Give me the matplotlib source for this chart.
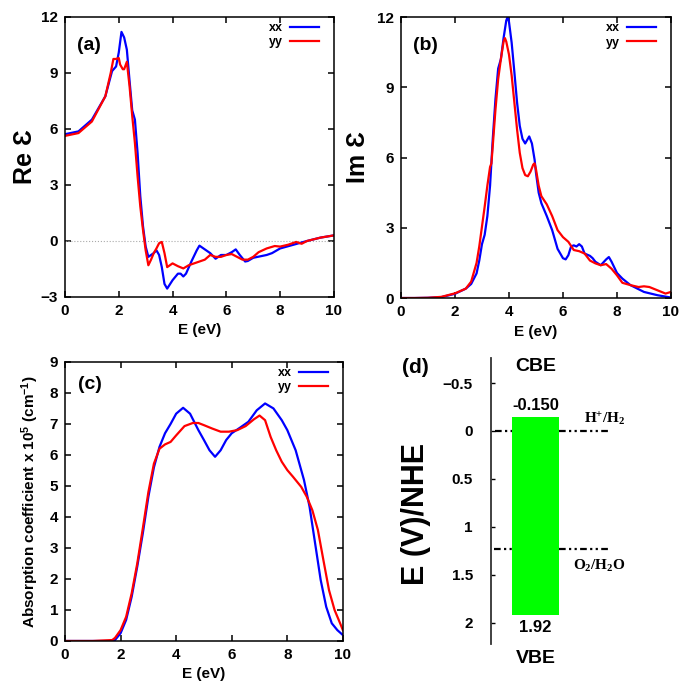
import numpy as np
import matplotlib
matplotlib.use('Agg')
import matplotlib.pyplot as plt

plt.rcParams['font.family'] = ['Liberation Sans', 'DejaVu Sans']
plt.rcParams['font.weight'] = 'bold'
plt.rcParams['axes.labelweight'] = 'bold'
plt.rcParams['mathtext.default'] = 'regular'

# (a) Re eps
re_E = [0, 0.5, 1, 1.5, 1.75, 1.9, 2.0, 2.1, 2.2, 2.3, 2.4, 2.5, 2.6, 2.7, 2.8, 2.9, 3.0, 3.1, 3.3, 3.4, 3.5,
        3.6, 3.7, 3.8, 4.0, 4.2, 4.3, 4.4, 4.5, 4.7, 4.9, 5.0, 5.2, 5.4, 5.6, 5.8, 6.0, 6.2, 6.35, 6.5, 6.7,
        6.8, 7.0, 7.5, 7.7, 8.0, 8.5, 9.0, 9.5, 10]
re_xx = [5.72, 5.87, 6.5, 7.75, 9.1, 9.35, 10.1, 11.2, 10.9, 10.25, 8.6, 7.0, 6.5, 4.7, 2.4, 0.8, -0.3, -0.85,
         -0.65, -0.5, -0.75, -1.4, -2.3, -2.55, -2.1, -1.75, -1.75, -1.9, -1.75, -1.1, -0.5, -0.25, -0.45,
         -0.65, -0.95, -0.75, -0.75, -0.6, -0.45, -0.75, -1.1, -1.07, -0.9, -0.75, -0.65, -0.4, -0.2, 0.0,
         0.18, 0.3]
re_E2 = [0, 0.5, 1.0, 1.5, 1.7, 1.8, 1.9, 2.0, 2.05, 2.15, 2.2, 2.3, 2.4, 2.5, 2.6, 2.7, 2.8, 2.9, 3.0, 3.1,
         3.2, 3.3, 3.4, 3.5, 3.6, 3.7, 3.8, 3.9, 4.0, 4.2, 4.4, 4.6, 4.8, 5.0, 5.2, 5.4, 5.6, 5.8, 6.0, 6.2,
         6.4, 6.6, 6.8, 7.0, 7.2, 7.5, 7.8, 8.0, 8.3, 8.6, 8.8, 9.0, 9.5, 10]
re_yy = [5.63, 5.78, 6.4, 7.75, 9.0, 9.75, 9.75, 9.8, 9.45, 9.2, 9.2, 9.6, 8.3, 6.7, 5.25, 3.45, 1.85, 0.6,
         -0.5, -1.3, -1.0, -0.65, -0.4, -0.12, -0.05, -0.65, -1.4, -1.3, -1.2, -1.35, -1.47, -1.3, -1.2, -1.1,
         -1.0, -0.75, -0.85, -0.85, -0.75, -0.7, -0.85, -1.0, -1.0, -0.85, -0.6, -0.4, -0.27, -0.3, -0.2,
         -0.05, -0.15, 0.0, 0.18, 0.3]

# (b) Im eps
im_E = [0, 0.5, 1.0, 1.5, 2.0, 2.4, 2.6, 2.8, 2.9, 3.0, 3.1, 3.2, 3.3, 3.4, 3.5, 3.6, 3.7, 3.8, 3.9, 3.95,
        4.0, 4.1, 4.2, 4.3, 4.4, 4.5, 4.6, 4.7, 4.75, 4.85, 4.95, 5.0, 5.1, 5.2, 5.4, 5.6, 5.8, 6.0, 6.1,
        6.2, 6.3, 6.4, 6.5, 6.6, 6.7, 6.8, 7.0, 7.1, 7.2, 7.4, 7.6, 7.7, 7.8, 8.0, 8.2, 8.5, 9.0, 9.5, 10]
im_xx = [0, 0, 0.01, 0.04, 0.18, 0.4, 0.6, 1.05, 1.6, 2.3, 2.7, 3.5, 4.8, 6.8, 8.5, 9.8, 10.2, 11.1, 11.85,
         12.0, 11.8, 10.9, 9.65, 8.35, 7.35, 6.8, 6.6, 6.8, 6.9, 6.6, 5.9, 5.35, 4.5, 4.05, 3.5, 2.9, 2.1,
         1.7, 1.65, 1.83, 2.2, 2.25, 2.2, 2.3, 2.2, 1.9, 1.8, 1.7, 1.55, 1.4, 1.65, 1.75, 1.55, 1.07, 0.83,
         0.55, 0.26, 0.12, 0.02]
im_E2 = [0, 0.5, 1.0, 1.5, 2.0, 2.4, 2.6, 2.8, 2.9, 3.0, 3.1, 3.2, 3.3, 3.35, 3.4, 3.5, 3.6, 3.7, 3.8, 3.85,
         3.9, 4.0, 4.1, 4.2, 4.3, 4.4, 4.5, 4.6, 4.7, 4.8, 4.9, 4.95, 5.0, 5.1, 5.2, 5.4, 5.6, 5.8, 6.0, 6.2,
         6.4, 6.6, 6.8, 7.0, 7.2, 7.4, 7.6, 7.8, 8.0, 8.2, 8.5, 8.8, 9.0, 9.2, 9.5, 9.8, 10]
im_yy = [0, 0, 0.01, 0.05, 0.2, 0.4, 0.7, 1.5, 2.2, 3.05, 3.9, 4.8, 5.6, 5.75, 6.5, 8.05, 9.35, 10.2, 10.95,
         11.1, 10.95, 10.4, 9.5, 8.35, 7.2, 6.2, 5.55, 5.25, 5.2, 5.4, 5.7, 5.75, 5.5, 4.8, 4.35, 4.0, 3.5,
         2.9, 2.6, 2.4, 2.05, 2.0, 1.9, 1.6, 1.48, 1.4, 1.45, 1.25, 0.97, 0.65, 0.55, 0.47, 0.5, 0.47, 0.33,
         0.19, 0.26]

# (c) absorption coefficient
ab_E = [0, 1.0, 1.7, 1.8, 2.0, 2.2, 2.4, 2.6, 2.8, 3.0, 3.2, 3.4, 3.6, 3.8, 4.0, 4.25, 4.5, 4.8, 5.0, 5.2,
        5.4, 5.6, 5.8, 6.0, 6.3, 6.6, 6.9, 7.2, 7.5, 7.8, 8.0, 8.3, 8.6, 8.8, 9.0, 9.2, 9.4, 9.6, 9.8, 10]
ab_xx = [0, 0, 0, 0.03, 0.25, 0.68, 1.43, 2.4, 3.47, 4.65, 5.6, 6.26, 6.7, 7.0, 7.33, 7.52, 7.33, 6.8, 6.48,
         6.15, 5.94, 6.15, 6.48, 6.7, 6.88, 7.07, 7.44, 7.66, 7.5, 7.12, 6.8, 6.15, 5.19, 4.33, 3.15, 1.97,
         1.1, 0.57, 0.35, 0.19]
ab_E2 = [0, 1.0, 1.7, 1.8, 2.0, 2.2, 2.4, 2.6, 2.8, 3.0, 3.2, 3.4, 3.6, 3.8, 4.0, 4.3, 4.6, 4.8, 5.0, 5.3,
         5.6, 5.9, 6.2, 6.5, 6.8, 7.0, 7.2, 7.4, 7.6, 7.8, 8.0, 8.2, 8.5, 8.7, 8.9, 9.1, 9.3, 9.5, 9.7, 9.9, 10]
ab_yy = [0, 0, 0.03, 0.1, 0.35, 0.78, 1.54, 2.5, 3.63, 4.8, 5.72, 6.2, 6.34, 6.42, 6.63, 6.93, 7.03, 7.03,
         6.96, 6.85, 6.75, 6.75, 6.8, 6.93, 7.15, 7.27, 7.12, 6.58, 6.15, 5.78, 5.51, 5.3, 4.97, 4.65, 4.22,
         3.58, 2.6, 1.64, 1.0, 0.57, 0.35]

# (d) band edges
cbe = -0.150
vbe = 1.92
h_level = 0.0
o_level = 1.23

blue = '#0000ff'
red = '#ff0000'

fig = plt.figure(figsize=(6.93, 6.84), dpi=100)

def style(ax):
    ax.tick_params(direction='in', top=True, right=True, labelsize=11, width=1.1, length=4, pad=5)
    for s in ax.spines.values():
        s.set_linewidth(1.1)

ax1 = fig.add_axes([0.0938, 0.5658, 0.388, 0.4094])
ax1.axhline(0, color='#aaaaaa', lw=0.8, ls=':')
ax1.plot(re_E, re_xx, color=blue, lw=1.6, label='xx')
ax1.plot(re_E2, re_yy, color=red, lw=1.6, label='yy')
ax1.set_xlim(0, 10)
ax1.set_ylim(-3, 12)
ax1.set_yticks([-3, 0, 3, 6, 9, 12])
ax1.set_yticklabels(['\u22123', '0', '3', '6', '9', '12'])
ax1.set_xticks([0, 2, 4, 6, 8, 10])
ax1.set_xlabel('E (eV)', fontsize=11, labelpad=4)
ax1.set_ylabel('Re \u0190', fontsize=18, labelpad=3)
ax1.text(0.045, 0.93, '(a)', transform=ax1.transAxes, fontsize=14, va='top')
style(ax1)

ax2 = fig.add_axes([0.5786, 0.5643, 0.3896, 0.4108])
ax2.plot(im_E, im_xx, color=blue, lw=1.6, label='xx')
ax2.plot(im_E2, im_yy, color=red, lw=1.6, label='yy')
ax2.set_xlim(0, 10)
ax2.set_ylim(0, 12)
ax2.set_yticks([0, 3, 6, 9, 12])
ax2.set_xticks([0, 2, 4, 6, 8, 10])
ax2.set_xlabel('E (eV)', fontsize=11, labelpad=4)
ax2.set_ylabel('Im \u0190', fontsize=18, labelpad=5)
ax2.text(0.045, 0.93, '(b)', transform=ax2.transAxes, fontsize=14, va='top')
style(ax2)

ax3 = fig.add_axes([0.0938, 0.0629, 0.401, 0.408])
ax3.plot(ab_E, ab_xx, color=blue, lw=1.6, label='xx')
ax3.plot(ab_E2, ab_yy, color=red, lw=1.6, label='yy')
ax3.set_xlim(0, 10)
ax3.set_ylim(0, 9)
ax3.set_yticks(range(10))
ax3.set_xticks([0, 2, 4, 6, 8, 10])
ax3.set_xlabel('E (eV)', fontsize=11, labelpad=4)
ax3.set_ylabel('Absorption coefficient x 10$^{5}$ (cm$^{-1}$)', fontsize=11, labelpad=6)
ax3.text(0.045, 0.95, '(c)', transform=ax3.transAxes, fontsize=14, va='top')
style(ax3)

for ax in (ax1, ax2, ax3):
    w = ax.get_position().width * 693
    ax.legend(loc='upper right', bbox_to_anchor=(1 - 10 / w, 1.0), frameon=False, markerfirst=False,
              fontsize=9, handlelength=2.3, handletextpad=0.6, borderaxespad=0, labelspacing=0.2)

ax4 = fig.add_axes([0.7085, 0.0585, 0.2727, 0.418])
ax4.set_xlim(0, 1)
ax4.set_ylim(2.22, -0.76)
for s in ('top', 'right', 'bottom'):
    ax4.spines[s].set_visible(False)
ax4.spines['left'].set_linewidth(1.3)
ax4.spines['left'].set_color('#333333')
ax4.set_xticks([])
ax4.set_yticks([-0.5, 0, 0.5, 1, 1.5, 2])
ax4.set_yticklabels(['\u22120.5', '0', '0.5', '1', '1.5', '2'])
ax4.tick_params(axis='y', direction='in', labelsize=11, width=1, length=3, pad=13)
ax4.bar(0.2355, vbe - cbe, bottom=cbe, width=0.249, color='#00ff00', edgecolor='none')
dash = (0, (3, 1.5, 1, 1.5, 1, 1.5))
ax4.plot([0.021, 0.111], [h_level, h_level], color='black', lw=1.6, ls=dash)
ax4.plot([0.36, 0.63], [h_level, h_level], color='black', lw=1.6, ls=dash)
ax4.plot([0.016, 0.111], [o_level, o_level], color='black', lw=1.6, ls=dash)
ax4.plot([0.36, 0.62], [o_level, o_level], color='black', lw=1.6, ls=dash)
ax4.text(0.235, -0.67, 'CBE', ha='center', va='center', fontsize=14)
ax4.text(0.235, 2.37, 'VBE', ha='center', va='center', fontsize=14, clip_on=False)
ax4.text(0.235, -0.27, '%.3f' % cbe, ha='center', va='center', fontsize=12)
ax4.text(0.235, 2.05, '%.2f' % vbe, ha='center', va='center', fontsize=12)
ax4.text(0.49, -0.12, r'$\mathregular{H^{+}/H_{2}}$', fontsize=11, family='Liberation Serif',
         ha='left', va='center')
ax4.text(0.435, 1.41, r'$\mathregular{O_{2}/H_{2}O}$', fontsize=11, family='Liberation Serif',
         ha='left', va='center')
ax4.set_ylabel('E (V)/NHE', fontsize=22)
ax4.yaxis.set_label_coords(-0.32, 0.455)
fig.text(0.58, 0.463, '(d)', fontsize=15, ha='left', va='center')

fig.savefig('out.png', dpi=100)
